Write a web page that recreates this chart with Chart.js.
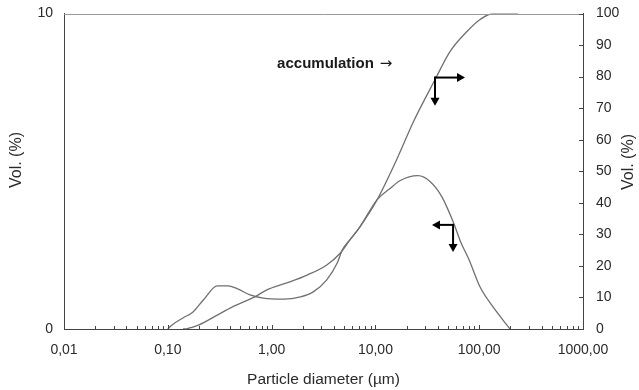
<!DOCTYPE html>
<html>
<head>
<meta charset="utf-8">
<script src="https://cdn.jsdelivr.net/npm/chart.js@4"></script>
<style>
html,body{margin:0;padding:0;background:#fff;}
#wrap{width:639px;height:390px;position:relative;}
</style>
</head>
<body>
<div id="wrap"><canvas id="c"></canvas></div>
<script>
// ---- data ----
const xTickValues = [0.01, 0.1, 1, 10, 100, 1000];
const xTickLabels = ["0,01", "0,10", "1,00", "10,00", "100,00", "1000,00"];

// frequency distribution (left axis, Vol. %)
const freqDiameter = [0.1, 0.11, 0.14, 0.175, 0.22, 0.3, 0.38, 0.47, 0.62, 0.83, 1.3, 1.9, 2.5, 3.4, 4.3, 4.8, 5.7, 7.1, 10.4, 13.8, 17.2, 25.7, 33.8, 43.7, 56.6, 66.3, 79.3, 102, 136, 198];
const freqVolume   = [0, 0.13, 0.35, 0.54, 0.92, 1.37, 1.37, 1.27, 1.08, 0.98, 0.95, 1.02, 1.17, 1.56, 2.10, 2.51, 2.83, 3.24, 4.10, 4.45, 4.70, 4.86, 4.67, 4.19, 3.37, 2.76, 2.22, 1.33, 0.70, 0];

// accumulation (right axis, Vol. %)
const cumDiameter = [0.14, 0.15, 0.165, 0.2, 0.3, 0.42, 0.69, 0.9, 1.4, 2.2, 3.4, 4.6, 5.7, 7.1, 10.4, 16.5, 23, 37.5, 52.3, 76.3, 102, 136, 237];
const cumVolume   = [0, 0, 0.4, 1.3, 4.4, 7.0, 10.2, 12.4, 14.6, 17.1, 20.3, 24.1, 28.3, 32.4, 41.0, 54.6, 65.4, 79.0, 87.9, 94.3, 98.1, 100, 100];

// annotations (data coordinates: diameter, right-axis value)
const accumLabel = {text: "accumulation", d: 1.13, v: 84.1};
const arrowRight = {d: 37.5, v: 79.7, tipD: 73, downV: 70.8};
const arrowLeft  = {d: 56, v: 33.0, tipD: 35.1, downV: 24.4};

const FONT = "'Liberation Sans', Arial, sans-serif";
const TXT = '#2a2a2a';

function toPts(xs, ys){ return xs.map((x,i)=>({x:x, y:ys[i]})); }

function arrowHead(ctx, x, y, dir){
  const L = 8, W = 4.5;
  ctx.beginPath();
  if(dir==='right'){ ctx.moveTo(x,y); ctx.lineTo(x-L,y-W); ctx.lineTo(x-L,y+W); }
  if(dir==='left'){ ctx.moveTo(x,y); ctx.lineTo(x+L,y-W); ctx.lineTo(x+L,y+W); }
  if(dir==='down'){ ctx.moveTo(x,y); ctx.lineTo(x-W,y-L); ctx.lineTo(x+W,y-L); }
  ctx.closePath(); ctx.fill();
}

const decor = {
  id: 'decor',
  afterDraw(chart){
    const ctx = chart.ctx, xs = chart.scales.x, y2 = chart.scales.y2, ca = chart.chartArea;
    ctx.save();
    // top border
    ctx.strokeStyle = '#999'; ctx.lineWidth = 1;
    ctx.beginPath(); ctx.moveTo(ca.left, Math.round(ca.top)+0.5); ctx.lineTo(ca.right, Math.round(ca.top)+0.5); ctx.stroke();
    // x minor/major ticks (inward)
    ctx.strokeStyle = '#444';
    for(let e=-2; e<3; e++){
      const base = Math.pow(10,e);
      for(let k=1; k<10; k++){
        const px = Math.round(xs.getPixelForValue(k*base))+0.5;
        const len = k===1 ? 4 : 3;
        ctx.beginPath(); ctx.moveTo(px, ca.bottom); ctx.lineTo(px, ca.bottom-len); ctx.stroke();
      }
    }
    // right axis ticks (inward)
    for(let v=0; v<=100; v+=10){
      const py = Math.round(y2.getPixelForValue(v))+0.5;
      ctx.beginPath(); ctx.moveTo(ca.right, py); ctx.lineTo(ca.right-4, py); ctx.stroke();
    }
    // vertical axis titles
    ctx.fillStyle = TXT; ctx.font = '16px ' + FONT;
    ctx.textAlign = 'center'; ctx.textBaseline = 'middle';
    ctx.save(); ctx.translate(17, 160); ctx.rotate(-Math.PI/2); ctx.fillText('Vol. (%)', 0, 0); ctx.restore();
    ctx.save(); ctx.translate(629, 162); ctx.rotate(-Math.PI/2); ctx.fillText('Vol. (%)', 0, 0); ctx.restore();
    // accumulation label
    ctx.font = 'bold 15px ' + FONT; ctx.textAlign = 'left'; ctx.fillStyle = '#1a1a1a';
    const lx = xs.getPixelForValue(accumLabel.d), ly = y2.getPixelForValue(accumLabel.v);
    ctx.fillText(accumLabel.text, lx, ly);
    const w = ctx.measureText(accumLabel.text).width;
    ctx.font = "15px 'DejaVu Sans', sans-serif";
    ctx.fillText('\u2192', lx + w + 6, ly);
    // arrows
    ctx.strokeStyle = '#000'; ctx.fillStyle = '#000'; ctx.lineWidth = 2;
    [[arrowRight,'right'],[arrowLeft,'left']].forEach(([a,dir])=>{
      const cx = xs.getPixelForValue(a.d), cy = y2.getPixelForValue(a.v);
      const tx = xs.getPixelForValue(a.tipD), ty = y2.getPixelForValue(a.downV);
      ctx.beginPath(); ctx.moveTo(cx, cy); ctx.lineTo(dir==='right'? tx-6 : tx+6, cy); ctx.stroke();
      ctx.beginPath(); ctx.moveTo(cx, cy-1); ctx.lineTo(cx, ty-6); ctx.stroke();
      arrowHead(ctx, tx, cy, dir);
      arrowHead(ctx, cx, ty, 'down');
    });
    ctx.restore();
  }
};

function noVPad(s){ s.paddingTop = 0; s.paddingBottom = 0; }

new Chart(document.getElementById('c'), {
  type: 'line',
  data: {
    datasets: [
      {label:'frequency', data: toPts(freqDiameter, freqVolume), yAxisID:'y', borderColor:'#707070', borderWidth:1.3, pointRadius:0, cubicInterpolationMode:'monotone', fill:false},
      {label:'accumulation', data: toPts(cumDiameter, cumVolume), yAxisID:'y2', borderColor:'#707070', borderWidth:1.3, pointRadius:0, cubicInterpolationMode:'monotone', fill:false}
    ]
  },
  options: {
    responsive: true, maintainAspectRatio: false, animation: false,
    layout: {padding: {top: 13.5, left: 0, right: 0, bottom: 0}},
    plugins: {legend:{display:false}, tooltip:{enabled:false}},
    scales: {
      x: {
        type: 'logarithmic', position: 'bottom', min: 0.01, max: 1000,
        afterBuildTicks: s => { s.ticks = xTickValues.map(v=>({value:v})); },
        afterFit: s => { s.height = 61; },
        grid: {display:true, drawOnChartArea:false, drawTicks:false},
        border: {display:true, color:'#444', width:1},
        ticks: {
          autoSkip:false, maxRotation:0, padding:13, color:TXT, font:{family:FONT, size:14},
          callback: (v) => { const i = xTickValues.indexOf(v); return i>=0 ? xTickLabels[i] : ''; }
        },
        title: {display:true, text:'Particle diameter (\u00b5m)', color:TXT, font:{family:FONT, size:15.5}, padding:{top:0, bottom:1}}
      },
      y: {
        position:'left', min:0, max:10,
        afterBuildTicks: s => { s.ticks = [{value:0},{value:10}]; },
        afterFit: s => { s.width = 64; noVPad(s); },
        grid: {display:true, drawOnChartArea:false, drawTicks:false},
        border: {display:true, color:'#444', width:1},
        ticks: {padding:11, color:TXT, font:{family:FONT, size:14}}
      },
      y2: {
        position:'right', min:0, max:100,
        ticks: {stepSize:10, padding:13, color:TXT, font:{family:FONT, size:14}},
        afterFit: s => { s.width = 56; noVPad(s); },
        grid: {display:true, drawOnChartArea:false, drawTicks:false},
        border: {display:true, color:'#444', width:1}
      }
    }
  },
  plugins: [decor]
});
</script>
</body>
</html>
